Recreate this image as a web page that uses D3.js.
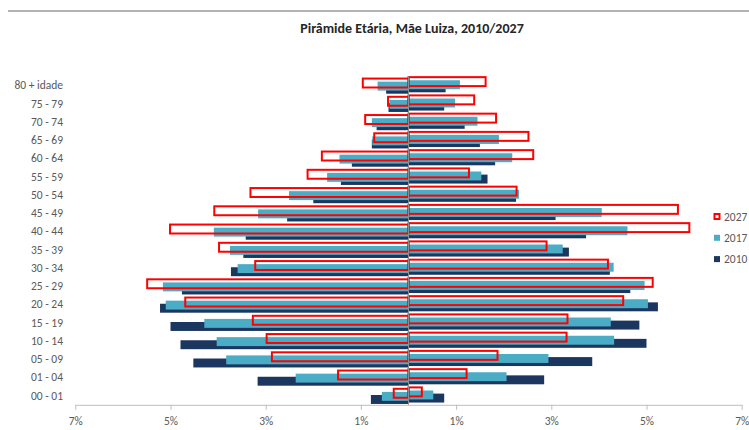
<!DOCTYPE html>
<html>
<head>
<meta charset="utf-8">
<script src="https://cdn.jsdelivr.net/npm/d3@7"></script>
<style>
  body { margin: 0; background: #fff; }
  text { font-family: Carlito, Calibri, Lato, "Open Sans", sans-serif; }
</style>
</head>
<body>
<div id="chart"></div>
<script>
// age groups, top to bottom
let ageGroups = ["80 + idade", "75 - 79", "70 - 74", "65 - 69", "60 - 64", "55 - 59",
  "50 - 54", "45 - 49", "40 - 44", "35 - 39", "30 - 34", "25 - 29", "20 - 24",
  "15 - 19", "10 - 14", "05 - 09", "01 - 04", "00 - 01"]

let years = ["2027", "2017", "2010"]

// share of population (%), left side of the pyramid
let left2027 = [0.96, 0.43, 0.91, 0.72, 1.82, 2.12, 3.32, 4.08, 5.01, 3.98, 3.22, 5.49, 4.69, 3.27, 2.98, 2.87, 1.48, 0.31]
let left2017 = [0.65, 0.40, 0.77, 0.76, 1.45, 1.71, 2.51, 3.16, 4.09, 3.75, 3.59, 5.16, 5.10, 4.29, 4.03, 3.83, 2.37, 0.56]
let left2010 = [0.47, 0.42, 0.67, 0.77, 1.19, 1.42, 2.00, 2.55, 3.42, 3.47, 3.73, 4.76, 5.22, 5.00, 4.79, 4.52, 3.17, 0.79]

// share of population (%), right side of the pyramid
let right2027 = [1.62, 1.38, 1.84, 2.52, 2.62, 1.27, 2.27, 5.66, 5.90, 2.90, 4.19, 5.13, 4.51, 3.34, 3.32, 1.87, 1.22, 0.28]
let right2017 = [1.08, 0.98, 1.45, 1.90, 2.18, 1.53, 2.32, 4.06, 4.60, 3.24, 4.31, 4.96, 5.03, 4.25, 4.32, 2.94, 2.06, 0.52]
let right2010 = [0.78, 0.75, 1.18, 1.50, 1.82, 1.66, 2.26, 3.09, 3.73, 3.37, 4.23, 4.66, 5.24, 4.85, 5.00, 3.86, 2.85, 0.75]

let tickValues = [-7, -5, -3, -1, 1, 3, 5, 7]

let width = 749,
    height = 430

let colors = {"2027": "#ff0000", "2017": "#4bacc6", "2010": "#1b365f"}

let svg = d3.select('#chart')
  .append('svg')
    .attr('width', width)
    .attr('height', height)

// thin grey rule along the top
svg.append('rect')
  .attr('x', 8).attr('y', 10)
  .attr('width', width - 8).attr('height', 2)
  .attr('fill', '#b4b4b4')

svg.append('text')
  .attr('x', 412)
  .attr('y', 33)
  .attr('text-anchor', 'middle')
  .style('font-size', '14px')
  .style('font-weight', 'bold')
  .attr('fill', '#262626')
  .text('Pirâmide Etária, Mãe Luiza, 2010/2027')

let x = d3.scaleLinear()
  .domain([-7, 7])
  .range([75.3, 741.7])

let y = d3.scaleBand()
  .domain(ageGroups)
  .range([76.3, 404.8])

// overlapping bars inside each band (Excel style)
let bh = y.bandwidth() * 0.49
let step = y.bandwidth() * 0.17
let groupTop = (y.bandwidth() - (2 * step + bh)) / 2
let offset = {"2027": 0, "2017": step, "2010": 2 * step}

let rows = ageGroups.map((g, i) => ({
  group: g,
  left: {"2027": left2027[i], "2017": left2017[i], "2010": left2010[i]},
  right: {"2027": right2027[i], "2017": right2017[i], "2010": right2010[i]}
}))

// draw order: 2010 at the back, 2027 outline in front
let drawOrder = ["2010", "2017", "2027"]
let sides = [{key: 'left', sign: -1, shift: 0.7}, {key: 'right', sign: 1, shift: -0.7}]

drawOrder.forEach(function(yr) {
  sides.forEach(function(s) {
    svg.selectAll('bars')
      .data(rows)
      .enter()
      .append('rect')
        .attr('x', d => s.sign < 0 ? x(-d[s.key][yr]) : x(0))
        .attr('y', d => y(d.group) + groupTop + offset[yr] + s.shift)
        .attr('width', d => Math.abs(x(d[s.key][yr]) - x(0)))
        .attr('height', bh)
        .attr('fill', yr == "2027" ? 'none' : colors[yr])
        .attr('stroke', yr == "2027" ? colors[yr] : 'none')
        .attr('stroke-width', 2)
  })
})

// centre line
svg.append('line')
  .attr('x1', x(0)).attr('x2', x(0))
  .attr('y1', y.range()[0]).attr('y2', y.range()[1])
  .attr('stroke', '#8c8c8c')
  .attr('stroke-width', 1)

// bottom axis
let xAxis = svg.append('g')
  .attr('transform', `translate(0,${y.range()[1]})`)
  .call(d3.axisBottom(x)
    .tickValues(tickValues)
    .tickSize(5)
    .tickSizeOuter(0)
    .tickFormat(d => Math.abs(d) + '%'))

xAxis.select('.domain').attr('stroke', '#bfbfbf')
xAxis.selectAll('.tick line').attr('stroke', '#bfbfbf')
xAxis.selectAll('.tick text')
  .attr('fill', '#595959')
  .attr('dy', '1.1em')
  .style('font-size', '11.5px')

// category labels
svg.selectAll('ageLabels')
  .data(ageGroups)
  .enter()
  .append('text')
    .attr('x', 63)
    .attr('y', d => y(d) + y.bandwidth() / 2)
    .attr('dy', '0.35em')
    .attr('text-anchor', 'end')
    .attr('fill', '#595959')
    .style('font-size', '11.5px')
    .text(d => d)

// legend
let legend = svg.selectAll('legend')
  .data(years)
  .enter()
  .append('g')
    .attr('transform', (d, i) => `translate(714,${216.5 + i * 21.3})`)

legend.append('rect')
  .attr('x', d => d == "2027" ? 0.5 : 0)
  .attr('y', d => d == "2027" ? -2.5 : -3)
  .attr('width', d => d == "2027" ? 5 : 6)
  .attr('height', d => d == "2027" ? 5 : 6)
  .attr('fill', d => d == "2027" ? 'none' : colors[d])
  .attr('stroke', d => d == "2027" ? colors[d] : 'none')
  .attr('stroke-width', 2)

legend.append('text')
  .attr('x', 10)
  .attr('dy', '0.35em')
  .attr('fill', '#595959')
  .style('font-size', '11.5px')
  .text(d => d)
</script>
</body>
</html>
